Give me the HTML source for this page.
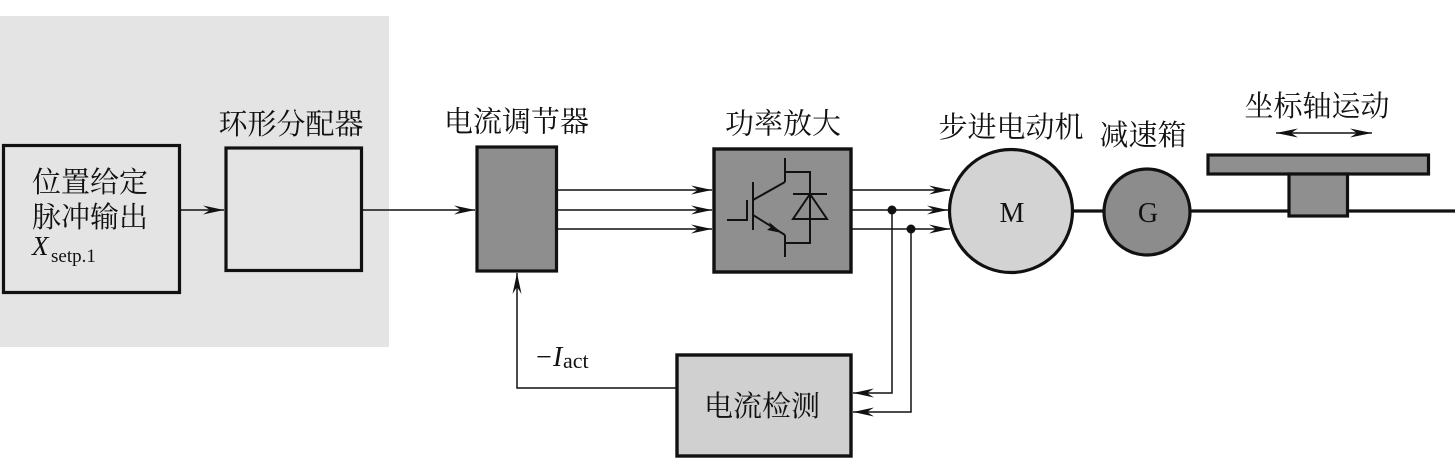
<!DOCTYPE html>
<html><head><meta charset="utf-8">
<style>
html,body{margin:0;padding:0;background:#fff;}
svg{display:block;}
.cjk{font-family:"Liberation Serif","Noto Serif CJK SC","Noto Sans CJK SC",serif;font-size:29px;fill:#111;}
.lat{font-family:"Liberation Serif",serif;fill:#111;}
</style></head>
<body>
<svg width="1455" height="459" viewBox="0 0 1455 459" xmlns="http://www.w3.org/2000/svg">
<defs>
<marker id="ar" markerUnits="userSpaceOnUse" markerWidth="24" markerHeight="12" viewBox="-22 -6 24 12" refX="0" refY="0" orient="auto">
<path d="M0,0 L-21,-4.5 L-14,0 L-21,4.5 Z" fill="#111"/>
</marker>
<marker id="ar2" markerUnits="userSpaceOnUse" markerWidth="24" markerHeight="12" viewBox="-22 -6 24 12" refX="0" refY="0" orient="auto-start-reverse">
<path d="M0,0 L-22,-4.5 L-15,0 L-22,4.5 Z" fill="#111"/>
</marker>
</defs>

<!-- gray background region -->
<rect x="0" y="16" width="389" height="331" fill="#e4e4e4"/>

<!-- Box 1 -->
<rect x="3.5" y="145.5" width="176" height="147" fill="#e4e4e4" stroke="#111" stroke-width="3.2"/>
<text class="cjk" x="90" y="183" text-anchor="middle" dominant-baseline="central">位置给定</text>
<text class="cjk" x="90" y="218" text-anchor="middle" dominant-baseline="central">脉冲输出</text>
<text class="lat" x="32" y="255" font-size="27" font-style="italic">X</text>
<text class="lat" x="51" y="262" font-size="19">setp.1</text>

<!-- Box 2 -->
<text class="cjk" x="291" y="125" text-anchor="middle" dominant-baseline="central">环形分配器</text>
<rect x="226" y="148" width="135.5" height="122.5" fill="#e4e4e4" stroke="#111" stroke-width="3.2"/>

<!-- arrow box1->box2 -->
<line x1="180" y1="210" x2="224" y2="210" stroke="#111" stroke-width="1.5" marker-end="url(#ar)"/>
<!-- line box2 -> box3 -->
<line x1="362" y1="210" x2="475" y2="210" stroke="#111" stroke-width="1.5" marker-end="url(#ar)"/>

<!-- Box 3 电流调节器 -->
<text class="cjk" x="516.5" y="122.5" text-anchor="middle" dominant-baseline="central">电流调节器</text>
<rect x="477" y="147" width="79.5" height="124" fill="#8e8e8e" stroke="#111" stroke-width="3.2"/>

<!-- three lines to power -->
<line x1="557" y1="190" x2="712" y2="190" stroke="#111" stroke-width="1.5" marker-end="url(#ar)"/>
<line x1="557" y1="210" x2="712" y2="210" stroke="#111" stroke-width="1.5" marker-end="url(#ar)"/>
<line x1="557" y1="229" x2="712" y2="229" stroke="#111" stroke-width="1.5" marker-end="url(#ar)"/>

<!-- Box 4 功率放大 -->
<text class="cjk" x="783" y="124.5" text-anchor="middle" dominant-baseline="central">功率放大</text>
<rect x="714" y="149" width="137" height="123" fill="#8f8f8f" stroke="#111" stroke-width="3.4"/>
<!-- IGBT -->
<g stroke="#111" stroke-width="2" fill="none">
<polyline points="727,220 747,220 747,200"/>
<line x1="753" y1="182" x2="753" y2="230"/>
<line x1="753" y1="200" x2="785" y2="182"/>
<line x1="785" y1="182" x2="785" y2="158"/>
<polyline points="785,172 810,172 810,243 785,243"/>
<line x1="753" y1="215" x2="785" y2="235"/>
<line x1="785" y1="235" x2="785" y2="257"/>
<line x1="793" y1="194" x2="827" y2="194"/>
<polygon points="810,194 793,219 827,219"/>
</g>
<path d="M782,233 L767,230 L771,227 L769,222 Z" fill="#111"/>

<!-- outputs to motor -->
<line x1="852" y1="190" x2="950" y2="190" stroke="#111" stroke-width="1.5" marker-end="url(#ar)"/>
<line x1="852" y1="210" x2="948" y2="210" stroke="#111" stroke-width="1.5" marker-end="url(#ar)"/>
<line x1="852" y1="229" x2="950" y2="229" stroke="#111" stroke-width="1.5" marker-end="url(#ar)"/>
<circle cx="892" cy="210" r="4.5" fill="#111"/>
<circle cx="911" cy="229" r="4.5" fill="#111"/>

<!-- feedback taps -->
<polyline points="892,210 892,393 853,393" fill="none" stroke="#111" stroke-width="1.5" marker-end="url(#ar)"/>
<polyline points="911,229 911,412 853,412" fill="none" stroke="#111" stroke-width="1.5" marker-end="url(#ar)"/>

<!-- 电流检测 box -->
<rect x="677" y="355" width="174" height="101" fill="#d0d0d0" stroke="#111" stroke-width="3.4"/>
<text class="cjk" x="762" y="407" text-anchor="middle" dominant-baseline="central">电流检测</text>

<!-- feedback to regulator -->
<polyline points="677,388 517,388 517,273" fill="none" stroke="#111" stroke-width="1.5" marker-end="url(#ar)"/>
<text class="lat" x="536" y="366" font-size="28">−</text>
<text class="lat" x="553" y="366" font-size="28" font-style="italic">I</text>
<text class="lat" x="563" y="368" font-size="22">act</text>

<!-- Motor -->
<text class="cjk" x="1011" y="128" text-anchor="middle" dominant-baseline="central">步进电动机</text>
<line x1="1073" y1="211" x2="1105" y2="211" stroke="#111" stroke-width="3.2"/>
<circle cx="1011" cy="211" r="61.5" fill="#d3d3d3" stroke="#111" stroke-width="3.2"/>
<text class="lat" x="1012" y="222" font-size="28" text-anchor="middle">M</text>

<!-- Gear -->
<text class="cjk" x="1143" y="136" text-anchor="middle" dominant-baseline="central">减速箱</text>
<line x1="1191" y1="211" x2="1455" y2="211" stroke="#111" stroke-width="3.2"/>
<circle cx="1147" cy="212" r="43" fill="#8c8c8c" stroke="#111" stroke-width="3.2"/>
<text class="lat" x="1148" y="222" font-size="28" text-anchor="middle">G</text>

<!-- table -->
<text class="cjk" x="1317" y="107" text-anchor="middle" dominant-baseline="central">坐标轴运动</text>
<line x1="1276" y1="133" x2="1372" y2="133" stroke="#111" stroke-width="1.5" marker-start="url(#ar2)" marker-end="url(#ar2)"/>
<rect x="1208" y="155" width="220.5" height="19" fill="#8f8f8f" stroke="#111" stroke-width="3.2"/>
<rect x="1289" y="174" width="58.5" height="42" fill="#8f8f8f" stroke="#111" stroke-width="3.2"/>
</svg>
</body></html>
